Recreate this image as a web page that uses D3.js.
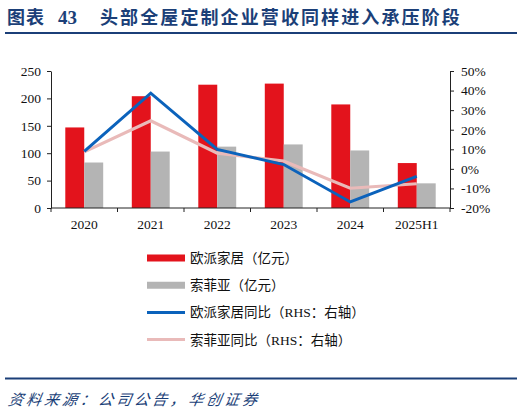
<!DOCTYPE html>
<html><head><meta charset="utf-8">
<script src="https://cdn.jsdelivr.net/npm/d3@7/dist/d3.min.js"></script>
<style>
html,body{margin:0;padding:0;background:#fff;}
svg{display:block;}
</style></head>
<body>
<svg id="c" width="524" height="413"></svg>
<script>
const categories = ["2020","2021","2022","2023","2024","2025H1"];
const oppeinRevenue = [147, 204, 225, 227, 189, 82];
const sofiaRevenue = [83, 103, 112, 116, 105, 45];
const oppeinYoY = [8.9, 38.7, 9.9, 2.2, -16.9, -3.8];
const sofiaYoY = [8.7, 24.6, 8.0, 4.0, -9.9, -7.6];
const leftTicks = [0, 50, 100, 150, 200, 250];
const rightTicks = [-20, -10, 0, 10, 20, 30, 40, 50];
const seriesNames = ["欧派家居（亿元）","索菲亚（亿元）","欧派家居同比（RHS：右轴）","索菲亚同比（RHS：右轴）"];
const titleText = ["图表","43","头部全屋定制企业营收同样进入承压阶段"];
const sourceText = "资料来源：公司公告，华创证券";

const RED = "#E3131C", GRAY = "#B4B4B4", BLUE = "#0B62BB", PINK = "#E9BAB9", NAVY = "#1B3F78";
const svg = d3.select("#c");
const L = 51, R = 450, T = 71, B = 208;

// Title
const tg = svg.append("g").attr("fill", NAVY).attr("font-weight", "bold");
tg.append("text").attr("x", 7).attr("y", 24).attr("font-family", "'Noto Sans CJK SC'").attr("font-size", 18).attr("letter-spacing", 1).text(titleText[0]);
tg.append("text").attr("x", 58).attr("y", 24).attr("font-family", "'Liberation Serif'").attr("font-size", 19).text(titleText[1]);
tg.append("text").attr("x", 100).attr("y", 24).attr("font-family", "'Noto Sans CJK SC'").attr("font-size", 18).attr("letter-spacing", 2.1).text(titleText[2]);
svg.append("line").attr("x1", 5).attr("x2", 517).attr("y1", 33).attr("y2", 33).attr("stroke", NAVY).attr("stroke-width", 2);

// Scales
const x = d3.scaleBand().domain(categories).range([L, R]).paddingInner(0).paddingOuter(0);
const yL = d3.scaleLinear().domain([0, 250]).range([B, T]);
const yR = d3.scaleLinear().domain([-20, 50]).range([B, T]);
const bw = x.bandwidth() * 0.285;
const off = x.bandwidth() * 0.215;

// Bars
svg.append("g").selectAll("rect").data(categories).join("rect")
  .attr("x", d => x(d) + off).attr("width", bw)
  .attr("y", (d, i) => yL(oppeinRevenue[i])).attr("height", (d, i) => B - yL(oppeinRevenue[i]))
  .attr("fill", RED);
svg.append("g").selectAll("rect").data(categories).join("rect")
  .attr("x", d => x(d) + off + bw).attr("width", bw)
  .attr("y", (d, i) => yL(sofiaRevenue[i])).attr("height", (d, i) => B - yL(sofiaRevenue[i]))
  .attr("fill", GRAY);

// Lines
const cx = d => x(d) + x.bandwidth() / 2;
const line = arr => d3.line().x(d => cx(d)).y((d, i) => yR(arr[i]))(categories);
svg.append("path").attr("d", line(sofiaYoY)).attr("fill", "none").attr("stroke", PINK).attr("stroke-width", 3.2).attr("stroke-linejoin", "miter");
svg.append("path").attr("d", line(oppeinYoY)).attr("fill", "none").attr("stroke", BLUE).attr("stroke-width", 3).attr("stroke-linejoin", "miter");

// Axes
const fontAxis = "'Liberation Serif', 'Times New Roman', serif";
const gl = svg.append("g").attr("transform", `translate(${L},0)`)
  .call(d3.axisLeft(yL).tickValues(leftTicks).tickSize(4).tickPadding(6).tickSizeOuter(0));
const gr = svg.append("g").attr("transform", `translate(${R},0)`)
  .call(d3.axisRight(yR).tickValues(rightTicks).tickSize(4).tickPadding(7).tickSizeOuter(0).tickFormat(d => d + "%"));
const xTickPos = d3.range(categories.length + 1).map(i => L + i * x.bandwidth());
const gb = svg.append("g").attr("transform", `translate(0,${B})`);
gb.append("line").attr("x1", L).attr("x2", R).attr("stroke", "#222").attr("stroke-width", 1);
gb.selectAll("line.t").data(xTickPos).join("line").attr("class", "t")
  .attr("x1", d => d).attr("x2", d => d).attr("y1", 0).attr("y2", 4).attr("stroke", "#222");
gb.selectAll("text").data(categories).join("text")
  .attr("x", d => cx(d)).attr("y", 21).attr("text-anchor", "middle")
  .attr("font-family", fontAxis).attr("font-size", 13.5).attr("fill", "#111").text(d => d);
[gl, gr].forEach(g => {
  g.selectAll("path.domain").attr("stroke", "#222");
  g.selectAll(".tick line").attr("stroke", "#222");
  g.selectAll("text").attr("font-family", fontAxis).attr("font-size", 13.5).attr("fill", "#111");
});

// Legend
const lg = svg.append("g");
const legendStyles = [
  {c: RED, w: 7}, {c: GRAY, w: 7}, {c: BLUE, w: 3}, {c: PINK, w: 3}
];
seriesNames.forEach((name, i) => {
  const y = 258 + i * 27.2;
  lg.append("line").attr("x1", 147).attr("x2", 185).attr("y1", y).attr("y2", y)
    .attr("stroke", legendStyles[i].c).attr("stroke-width", legendStyles[i].w);
  const t = lg.append("text").attr("x", 190).attr("y", y + 5).attr("font-size", 13.5)
    .attr("font-family", "'Noto Sans CJK SC'").attr("fill", "#111");
  const m = name.match(/^(.*（)(RHS：)(.*)$/);
  if (m) {
    t.append("tspan").text(m[1]);
    t.append("tspan").attr("font-family", "'Liberation Serif'").text("RHS");
    t.append("tspan").text("：" + m[3]);
  } else t.text(name);
});

// Footer
svg.append("line").attr("x1", 5).attr("x2", 517).attr("y1", 378.5).attr("y2", 378.5).attr("stroke", NAVY).attr("stroke-width", 2);
svg.append("text").attr("x", 8).attr("y", 405).attr("font-family", "'Noto Sans CJK SC'").attr("font-size", 15)
  .attr("font-style", "italic").attr("fill", NAVY).attr("letter-spacing", 3).attr("transform", "skewX(-10) translate(71,0)").text(sourceText);
</script>
</body></html>
